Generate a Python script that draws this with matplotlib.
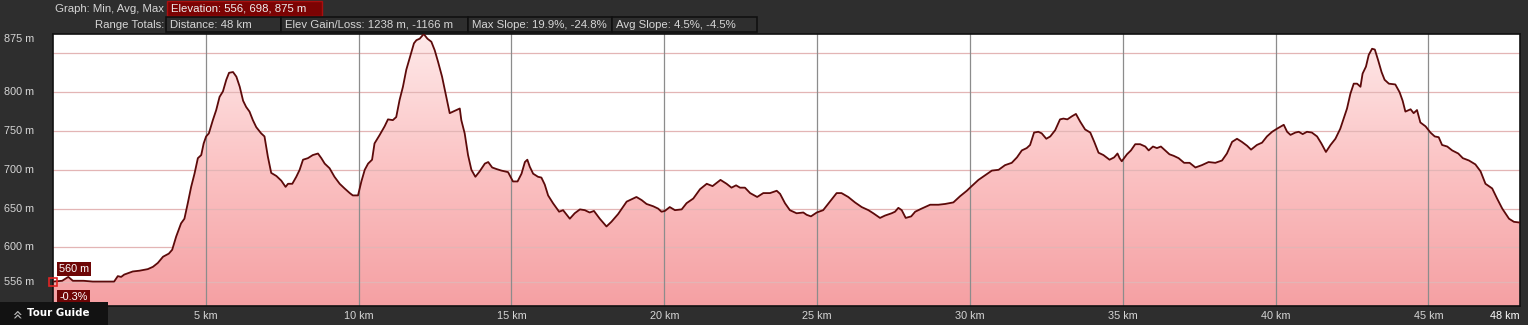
import numpy as np
import matplotlib
matplotlib.use("Agg")
import matplotlib.pyplot as plt
from matplotlib.colors import LinearSegmentedColormap
from matplotlib.patches import Polygon, Rectangle
from matplotlib.transforms import blended_transform_factory

# perfil de altura (km, m)
dist_km = [0.0, 0.3, 0.5, 0.65, 1.0, 1.3, 2.0, 2.12, 2.23, 2.33, 2.61, 2.83, 3.1, 3.27, 3.43,
           3.6, 3.79, 3.9, 4.03, 4.19, 4.3, 4.41, 4.52, 4.63, 4.74, 4.85, 4.93, 5.01, 5.1,
           5.23, 5.34, 5.45, 5.56, 5.67, 5.76, 5.89, 6.0, 6.11, 6.22, 6.32, 6.43, 6.54, 6.65,
           6.81, 6.92, 7.03, 7.14, 7.31, 7.47, 7.61, 7.69, 7.83, 7.96, 8.07, 8.18, 8.34, 8.5,
           8.67, 8.78, 8.89, 9.05, 9.21, 9.38, 9.54, 9.71, 9.81, 9.98, 10.09, 10.2, 10.31,
           10.44, 10.52, 10.69, 10.85, 10.96, 11.12, 11.23, 11.34, 11.45, 11.56, 11.67, 11.81,
           11.89, 12.0, 12.13, 12.25, 12.38, 12.49, 12.6, 12.73, 12.87, 12.98, 13.09, 13.25,
           13.31, 13.36, 13.47, 13.58, 13.69, 13.82, 13.96, 14.13, 14.24, 14.37, 14.51, 14.67,
           14.89, 15.05, 15.2, 15.33, 15.44, 15.52, 15.6, 15.71, 15.87, 15.98, 16.09, 16.2,
           16.36, 16.56, 16.69, 16.91, 17.07, 17.24, 17.4, 17.56, 17.7, 17.89, 18.11, 18.27,
           18.49, 18.77, 18.93, 19.09, 19.26, 19.42, 19.64, 19.8, 19.91, 20.02, 20.18, 20.35,
           20.57, 20.73, 20.95, 21.17, 21.39, 21.58, 21.71, 21.84, 22.04, 22.2, 22.35, 22.48,
           22.64, 22.81, 23.04, 23.24, 23.46, 23.68, 23.79, 23.95, 24.11, 24.33, 24.55, 24.66,
           24.8, 24.99, 25.2, 25.42, 25.64, 25.8, 26.02, 26.24, 26.46, 26.68, 26.84, 27.06,
           27.22, 27.44, 27.55, 27.66, 27.77, 27.9, 28.08, 28.21, 28.42, 28.7, 28.97, 29.19,
           29.46, 29.68, 29.9, 30.06, 30.28, 30.5, 30.72, 30.94, 31.15, 31.37, 31.54, 31.7,
           31.86, 31.97, 32.1, 32.24, 32.35, 32.5, 32.63, 32.79, 32.95, 33.06, 33.19, 33.34,
           33.47, 33.61, 33.77, 33.94, 34.07, 34.21, 34.37, 34.57, 34.72, 34.83, 34.9, 34.97,
           35.14, 35.27, 35.41, 35.57, 35.74, 35.85, 35.99, 36.12, 36.25, 36.39, 36.53, 36.67,
           36.83, 37.01, 37.19, 37.38, 37.59, 37.81, 38.03, 38.25, 38.41, 38.58, 38.74, 38.9,
           39.07, 39.2, 39.39, 39.56, 39.72, 39.89, 40.05, 40.27, 40.38, 40.49, 40.65, 40.76,
           40.89, 41.03, 41.19, 41.36, 41.5, 41.65, 41.8, 41.96, 42.12, 42.23, 42.34, 42.45,
           42.56, 42.67, 42.78, 42.85, 42.96, 43.05, 43.16, 43.25, 43.36, 43.47, 43.57, 43.71,
           43.92, 44.06, 44.16, 44.25, 44.42, 44.52, 44.63, 44.74, 44.91, 45.07, 45.21, 45.34,
           45.45, 45.62, 45.78, 45.98, 46.13, 46.33, 46.54, 46.71, 46.87, 47.09, 47.25, 47.42,
           47.64, 47.8, 48.0]
elev_m = [556, 557, 562, 557, 557, 556, 556, 563, 562, 565, 569, 570, 572, 575, 580,
          588, 592, 597, 614, 631, 637, 657, 678, 695, 715, 719, 734, 743, 747,
          764, 777, 794, 801, 816, 825, 826, 820, 807, 789, 781, 775, 764, 755,
          747, 743, 717, 696, 692, 686, 678, 682, 682, 691, 700, 713, 715, 719,
          721, 715, 708, 702, 691, 682, 676, 670, 667, 667, 685, 700, 708,
          713, 734, 745, 756, 765, 764, 768, 790, 807, 829, 844, 863,
          867, 869, 875, 869, 865, 854, 839, 820, 794, 773, 775, 778,
          779, 764, 747, 719, 700, 691, 698, 708, 710, 703, 701, 699,
          697, 685, 685, 695, 710, 713, 704, 695, 691, 690, 681, 667,
          657, 646, 648, 637, 644, 649, 648, 645, 647, 637, 627, 633,
          643, 659, 662, 665, 661, 656, 653, 650, 646, 647, 652, 648,
          649, 657, 663, 675, 682, 679, 683, 687, 682, 677, 680, 677,
          677, 670, 665, 670, 670, 673, 669, 657, 648, 644, 645, 642,
          640, 645, 648, 659, 670, 670, 665, 658, 652, 648, 644, 638,
          641, 644, 646, 651, 648, 638, 640, 646, 650, 655, 655, 656,
          658, 666, 673, 679, 687, 693, 699, 700, 706, 709, 716, 725,
          728, 732, 748, 749, 747, 740, 743, 751, 765, 766, 765, 769,
          772, 762, 752, 748, 736, 722, 719, 713, 716, 721, 715, 711,
          720, 725, 733, 733, 730, 725, 730, 728, 730, 725, 720, 718,
          715, 709, 709, 703, 706, 710, 709, 712, 721, 736, 740, 736,
          731, 726, 732, 735, 743, 749, 753, 758, 749, 745, 748, 749,
          746, 749, 748, 743, 734, 723, 732, 740, 753, 766, 779, 798,
          811, 811, 807, 824, 833, 848, 856, 855, 841, 826, 816, 811,
          810, 800, 789, 775, 778, 773, 777, 761, 756, 748, 743, 742,
          732, 730, 725, 721, 715, 712, 707, 698, 682, 676, 663, 650,
          637, 633, 632]

y_ticks = [875, 800, 750, 700, 650, 600, 556]
y_grid = [850, 800, 750, 700, 650, 600, 556]
x_ticks = [5, 10, 15, 20, 25, 30, 35, 40, 45]
x_max = 48

header_graph = "Elevation: 556, 698, 875 m"
range_totals = ["Distance: 48 km", "Elev Gain/Loss: 1238 m, -1166 m",
                "Max Slope: 19.9%, -24.8%", "Avg Slope: 4.5%, -4.5%"]
cursor_elev = "560 m"
cursor_slope = "-0.3%"

W, H = 1528, 325
BG = "#2e2e2e"
TXT = "#d6d6d6"
FONT = "Liberation Sans"

fig = plt.figure(figsize=(W / 100, H / 100), dpi=100, facecolor=BG)
ax = fig.add_axes([53 / W, 1 - 306 / H, 1467 / W, 272 / H])
ax.set_facecolor("white")

y_lo, y_hi = 524.5, 875

# relleno con degradado recortado por el perfil
verts = [(0, y_lo)] + list(zip(dist_km, elev_m)) + [(dist_km[-1], y_lo)]
poly = Polygon(verts, closed=True, facecolor="none", edgecolor="none")
ax.add_patch(poly)
cmap = LinearSegmentedColormap.from_list("rosa", ["#f5a0a3", "#fbc2c3", "#fee9e9"])
grad = np.linspace(0, 1, 256).reshape(-1, 1)
im = ax.imshow(grad, extent=[0, x_max, y_lo, y_hi], origin="lower", cmap=cmap,
               aspect="auto", zorder=1, interpolation="bicubic")
im.set_clip_path(poly)

for g in y_grid:
    ax.axhline(g, color="#e3b5b5", lw=0.9, zorder=2)
for t in x_ticks:
    ax.axvline(t, color="#8c8c8c", lw=0.9, zorder=2)

ax.plot(dist_km, elev_m, color="#5c0a0a", lw=1.3, zorder=3)
ax.plot([dist_km[0]], [elev_m[0]], marker="s", ms=6, mfc="none", mec="#e02424",
        mew=1.2, zorder=4, clip_on=False)

ax.set_xlim(0, x_max)
ax.set_ylim(y_lo, y_hi)
for s in ax.spines.values():
    s.set_color("#111111")
    s.set_linewidth(1.2)

ax.set_yticks([])
ax.set_xticks(x_ticks)
ax.set_xticklabels([f"{t} km" for t in x_ticks], fontsize=7.8, color=TXT, family=FONT)
ax.tick_params(axis="x", length=0, pad=3.5)
ax.text(x_max, -0.018, f"{x_max} km", transform=ax.get_xaxis_transform(), ha="right",
        va="top", fontsize=7.8, color="white", family=FONT)

ytr = blended_transform_factory(fig.transFigure, ax.transData)
for v in y_ticks:
    ax.text(4 / W, v, f"{v} m", transform=ytr, ha="left",
            va="top" if v == y_hi else "center", fontsize=7.8, color=TXT, family=FONT)

# etiquetas del cursor
ax.text(0.2, 572, cursor_elev, ha="left", va="center", fontsize=7.8, color="white",
        family=FONT, zorder=5,
        bbox=dict(boxstyle="square,pad=0.2", facecolor="#6e0606", edgecolor="none"))
ax.text(0.2, 536.5, cursor_slope, ha="left", va="center", fontsize=7.8, color="white",
        family=FONT, zorder=5,
        bbox=dict(boxstyle="square,pad=0.2", facecolor="#6e0606", edgecolor="none"))

# cabecera
def fx(px):
    return px / W

def fy(py):
    return 1 - py / H

fig.text(fx(164), fy(8.5), "Graph: Min, Avg, Max", ha="right", va="center",
         fontsize=8.2, color=TXT, family=FONT)
fig.patches.append(Rectangle((fx(167), fy(16)), fx(322) - fx(167), fy(1) - fy(16),
                             transform=fig.transFigure, facecolor="#7c0303",
                             edgecolor="#a80f0f", lw=1))
fig.text(fx(171), fy(8.5), header_graph, ha="left", va="center", fontsize=8.2,
         color="#eeeeee", family=FONT)

fig.text(fx(164), fy(24.5), "Range Totals:", ha="right", va="center",
         fontsize=8.2, color=TXT, family=FONT)
box_edges = [166, 281, 468, 612, 757]
for i, label in enumerate(range_totals):
    x0, x1 = box_edges[i], box_edges[i + 1]
    fig.patches.append(Rectangle((fx(x0), fy(32)), fx(x1) - fx(x0), fy(17) - fy(32),
                                 transform=fig.transFigure, facecolor=BG,
                                 edgecolor="#101010", lw=1.2))
    fig.text(fx(x0 + 4), fy(24.5), label, ha="left", va="center", fontsize=8.2,
             color=TXT, family=FONT)

# pestana Tour Guide
fig.patches.append(Rectangle((0, 0), fx(108), fy(302), transform=fig.transFigure,
                             facecolor="#121212", edgecolor="none", zorder=5))
fig.text(fx(18), fy(312.5), "»", rotation=90, ha="center", va="center", fontsize=12,
         color="#bbbbbb", zorder=6)
fig.text(fx(27), fy(313), "Tour Guide", ha="left", va="center", fontsize=7.4,
         color="white", fontweight="bold", family="DejaVu Sans", zorder=6)

plt.savefig("out.png", dpi=100, facecolor=BG)
plt.close()
